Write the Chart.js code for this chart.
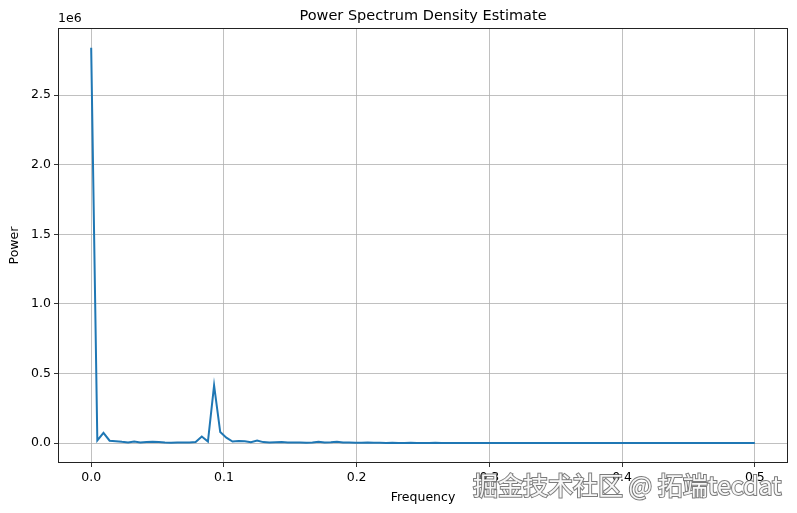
<!DOCTYPE html>
<html>
<head>
<meta charset="utf-8">
<script src="https://cdn.jsdelivr.net/npm/chart.js@4"></script>
<style>
  html, body { margin: 0; padding: 0; background: #fff; }
  canvas { display: block; }
</style>
</head>
<body>
<canvas id="psdChart" width="797" height="513"></canvas>
<script>
// Periodogram values, one per frequency bin (step 1/216, from 0 to 0.5)
const power = [
    2840000, 20000, 75000, 18000, 15000, 10000, 6000, 12000, 6000, 9000,
    11000, 9000, 5000, 4000, 5000, 6000, 5000, 8000, 48000, 12000,
    415000, 80000, 40000, 12000, 16000, 15000, 8000, 20000, 8000, 6000,
    7000, 8000, 6000, 5000, 5000, 4000, 5000, 10000, 5000, 7000,
    11000, 6000, 5000, 4000, 3000, 6000, 3000, 3000, 2500, 3000,
    2500, 2500, 3000, 2500, 2500, 2500, 3000, 2500, 2500, 2500,
    2500, 2000, 2500, 2000, 2000, 2500, 2000, 2000, 2000, 2000,
    2000, 2000, 2000, 1500, 2000, 1500, 1500, 2000, 1500, 1500,
    1500, 1500, 1500, 1500, 1500, 1500, 1500, 1500, 1500, 1500,
    1500, 1500, 1500, 1500, 1500, 1000, 1500, 1000, 1000, 1000,
    1000, 1000, 1000, 1000, 1000, 1000, 1000, 1000, 1000
];
const freqStep = 1 / 216;
const frequency = power.map((_, i) => i * freqStep);

const xTicks = [0, 0.1, 0.2, 0.3, 0.4, 0.5];
const yTicks = [0, 500000, 1000000, 1500000, 2000000, 2500000];

const FONT = 'DejaVu Sans';

// Title, offset label, frame and watermark
const extras = {
    id: 'extras',
    afterDraw(chart) {
        const { ctx, chartArea } = chart;
        ctx.save();
        ctx.strokeStyle = '#222';
        ctx.lineWidth = 1;
        ctx.strokeRect(chartArea.left + 0.5, chartArea.top + 0.5,
            chartArea.right - chartArea.left - 1, chartArea.bottom - chartArea.top - 1);

        ctx.fillStyle = '#000';
        ctx.font = '14.5px "' + FONT + '"';
        ctx.textAlign = 'center';
        ctx.textBaseline = 'middle';
        ctx.fillText('Power Spectrum Density Estimate', (chartArea.left + chartArea.right) / 2, 16);

        ctx.font = '12.5px "' + FONT + '"';
        ctx.textAlign = 'left';
        ctx.fillText('1e6', chartArea.left, 19);

        // watermark
        ctx.font = '25px "Noto Sans CJK SC"';
        ctx.textBaseline = 'middle';
        ctx.lineWidth = 2;
        ctx.strokeStyle = 'rgba(90,90,90,0.8)';
        ctx.fillStyle = 'rgba(255,255,255,0.95)';
        ctx.strokeText('掘金技术社区 @ 拓端tecdat', 473, 485);
        ctx.fillText('掘金技术社区 @ 拓端tecdat', 473, 485);
        ctx.restore();
    }
};

const ctx = document.getElementById('psdChart').getContext('2d');
const psdChart = new Chart(ctx, {
    type: 'line',
    data: {
        datasets: [{
            data: frequency.map((f, i) => ({ x: f, y: power[i] })),
            borderColor: '#1f77b4',
            borderWidth: 2,
            pointRadius: 0,
            tension: 0,
            fill: false
        }]
    },
    options: {
        responsive: false,
        animation: false,
        layout: { padding: { left: 3, right: 9, top: 28, bottom: 4 } },
        plugins: {
            legend: { display: false },
            tooltip: { enabled: false }
        },
        scales: {
            x: {
                type: 'linear',
                min: -0.025,
                max: 0.525,
                afterBuildTicks: (scale) => { scale.ticks = xTicks.map(v => ({ value: v })); },
                afterFit: (scale) => { scale.height = 46; },
                ticks: {
                    callback: (v) => v.toFixed(1),
                    color: '#000',
                    font: { family: FONT, size: 12.5 },
                    padding: 3,
                    maxRotation: 0
                },
                grid: { color: '#b0b0b0', lineWidth: 0.8, tickLength: 4, tickColor: '#000' },
                border: { display: false },
                title: {
                    display: true,
                    text: 'Frequency',
                    color: '#000',
                    font: { family: FONT, size: 12.5 },
                    padding: 4
                }
            },
            y: {
                type: 'linear',
                min: -142000,
                max: 2982000,
                afterBuildTicks: (scale) => { scale.ticks = yTicks.map(v => ({ value: v })); },
                afterFit: (scale) => { scale.width = 55; },
                ticks: {
                    callback: (v) => (v / 1e6).toFixed(1),
                    color: '#000',
                    font: { family: FONT, size: 12.5 },
                    padding: 3
                },
                grid: { color: '#b0b0b0', lineWidth: 0.8, tickLength: 4, tickColor: '#000' },
                border: { display: false },
                title: {
                    display: true,
                    text: 'Power',
                    color: '#000',
                    font: { family: FONT, size: 12.5 },
                    padding: 4
                }
            }
        }
    },
    plugins: [extras]
});
</script>
</body>
</html>
